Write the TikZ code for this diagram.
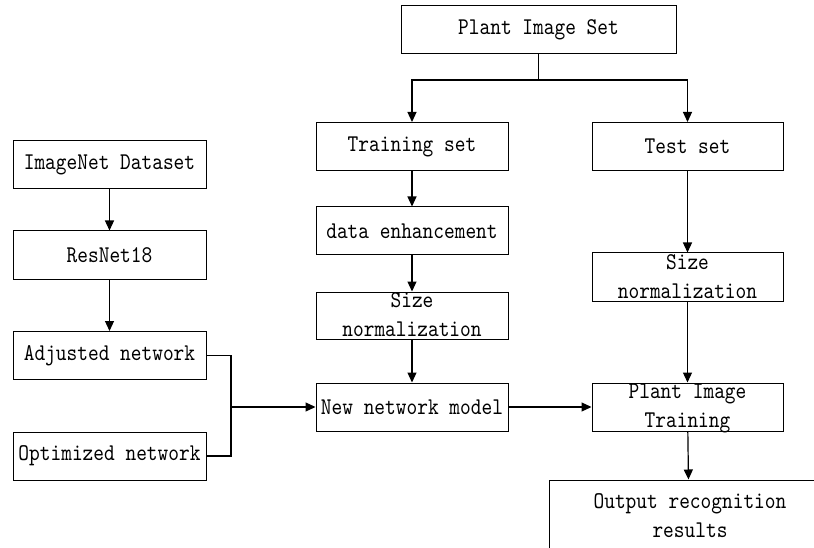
\documentclass[tikz,border=0pt]{standalone}
\usepackage{fontspec}
\newfontfamily\reffont{lmmono10-regular.otf}[FakeStretch=0.85]
\usetikzlibrary{arrows.meta}
\tikzset{
  box/.style={draw=black, line width=1pt, inner sep=0pt, minimum width=192pt, minimum height=48pt, font=\reffont\fontsize{24}{29}\selectfont},
  lbl/.style={inner sep=0pt, align=center, font=\reffont\fontsize{24}{29}\selectfont},
  conn/.style={line width=1.2pt, draw=black},
  arr/.style={conn, -{Triangle[length=10pt,width=9pt]}}
}
\begin{document}
\begin{tikzpicture}[x=1pt,y=-1pt]
\useasboundingbox (0,0) rectangle (814,548);
\clip (0,0) rectangle (814,548);
% boxes
\node[box, minimum width=275pt, minimum height=48pt] (pis) at (538.5,30) {Plant Image Set};
\node[box] (train) at (412,146.5) {Training set};
\node[box, minimum width=191pt] (test) at (687.5,146.5) {Test set};
\node[box, minimum width=193pt] (imagenet) at (109.5,165) {ImageNet Dataset};
\node[box, minimum width=193pt] (resnet) at (109.5,255) {ResNet18};
\node[box, minimum width=193pt] (adjusted) at (109.5,355.5) {Adjusted network};
\node[box, minimum width=193pt] (optimized) at (109.5,456) {Optimized network};
\node[box] (dataenh) at (412,231) {data enhancement};
\node[box, minimum height=47pt] (sn1) at (412,315.5) {};
\node[lbl] (sn1t) at (412,315) {Size\\normalization};
\node[box, minimum width=191pt] (sn2) at (687.5,277) {};
\node[lbl] (sn2t) at (687.5,276.5) {Size\\normalization};
\node[box] (newnet) at (412,407) {New network model};
\node[box, minimum width=191pt] (pit) at (687.5,407) {};
\node[lbl] (pitt) at (687.5,408) {Plant Image\\Training};
\node[box, minimum width=280pt, minimum height=80pt] (out) at (689,520) {};
\node[lbl] (outt) at (690,516) {Output recognition\\results};
% connectors
\coordinate (split) at (538.5,80);
\draw[conn] (pis.south) -- (split);
\draw[arr] (split) -| (train.north);
\draw[arr] (split) -| (test.north);
\draw[arr] (imagenet) -- (resnet);
\draw[arr] (resnet) -- (adjusted);
\draw[arr] (train) -- (dataenh);
\draw[arr] (dataenh) -- (sn1);
\draw[arr] (sn1) -- (newnet);
\draw[arr] (test) -- (sn2);
\draw[arr] (sn2) -- (pit);
\draw[arr] (pit) -- (out);
\draw[arr] (newnet) -- (pit);
\coordinate (j1) at (231,355.5);
\coordinate (j2) at (231,456);
\coordinate (jm) at (231,407);
\draw[conn] (adjusted.east) -- (j1) -- (j2) -- (optimized.east);
\draw[arr] (jm) -- (newnet.west);
\end{tikzpicture}
\end{document}
